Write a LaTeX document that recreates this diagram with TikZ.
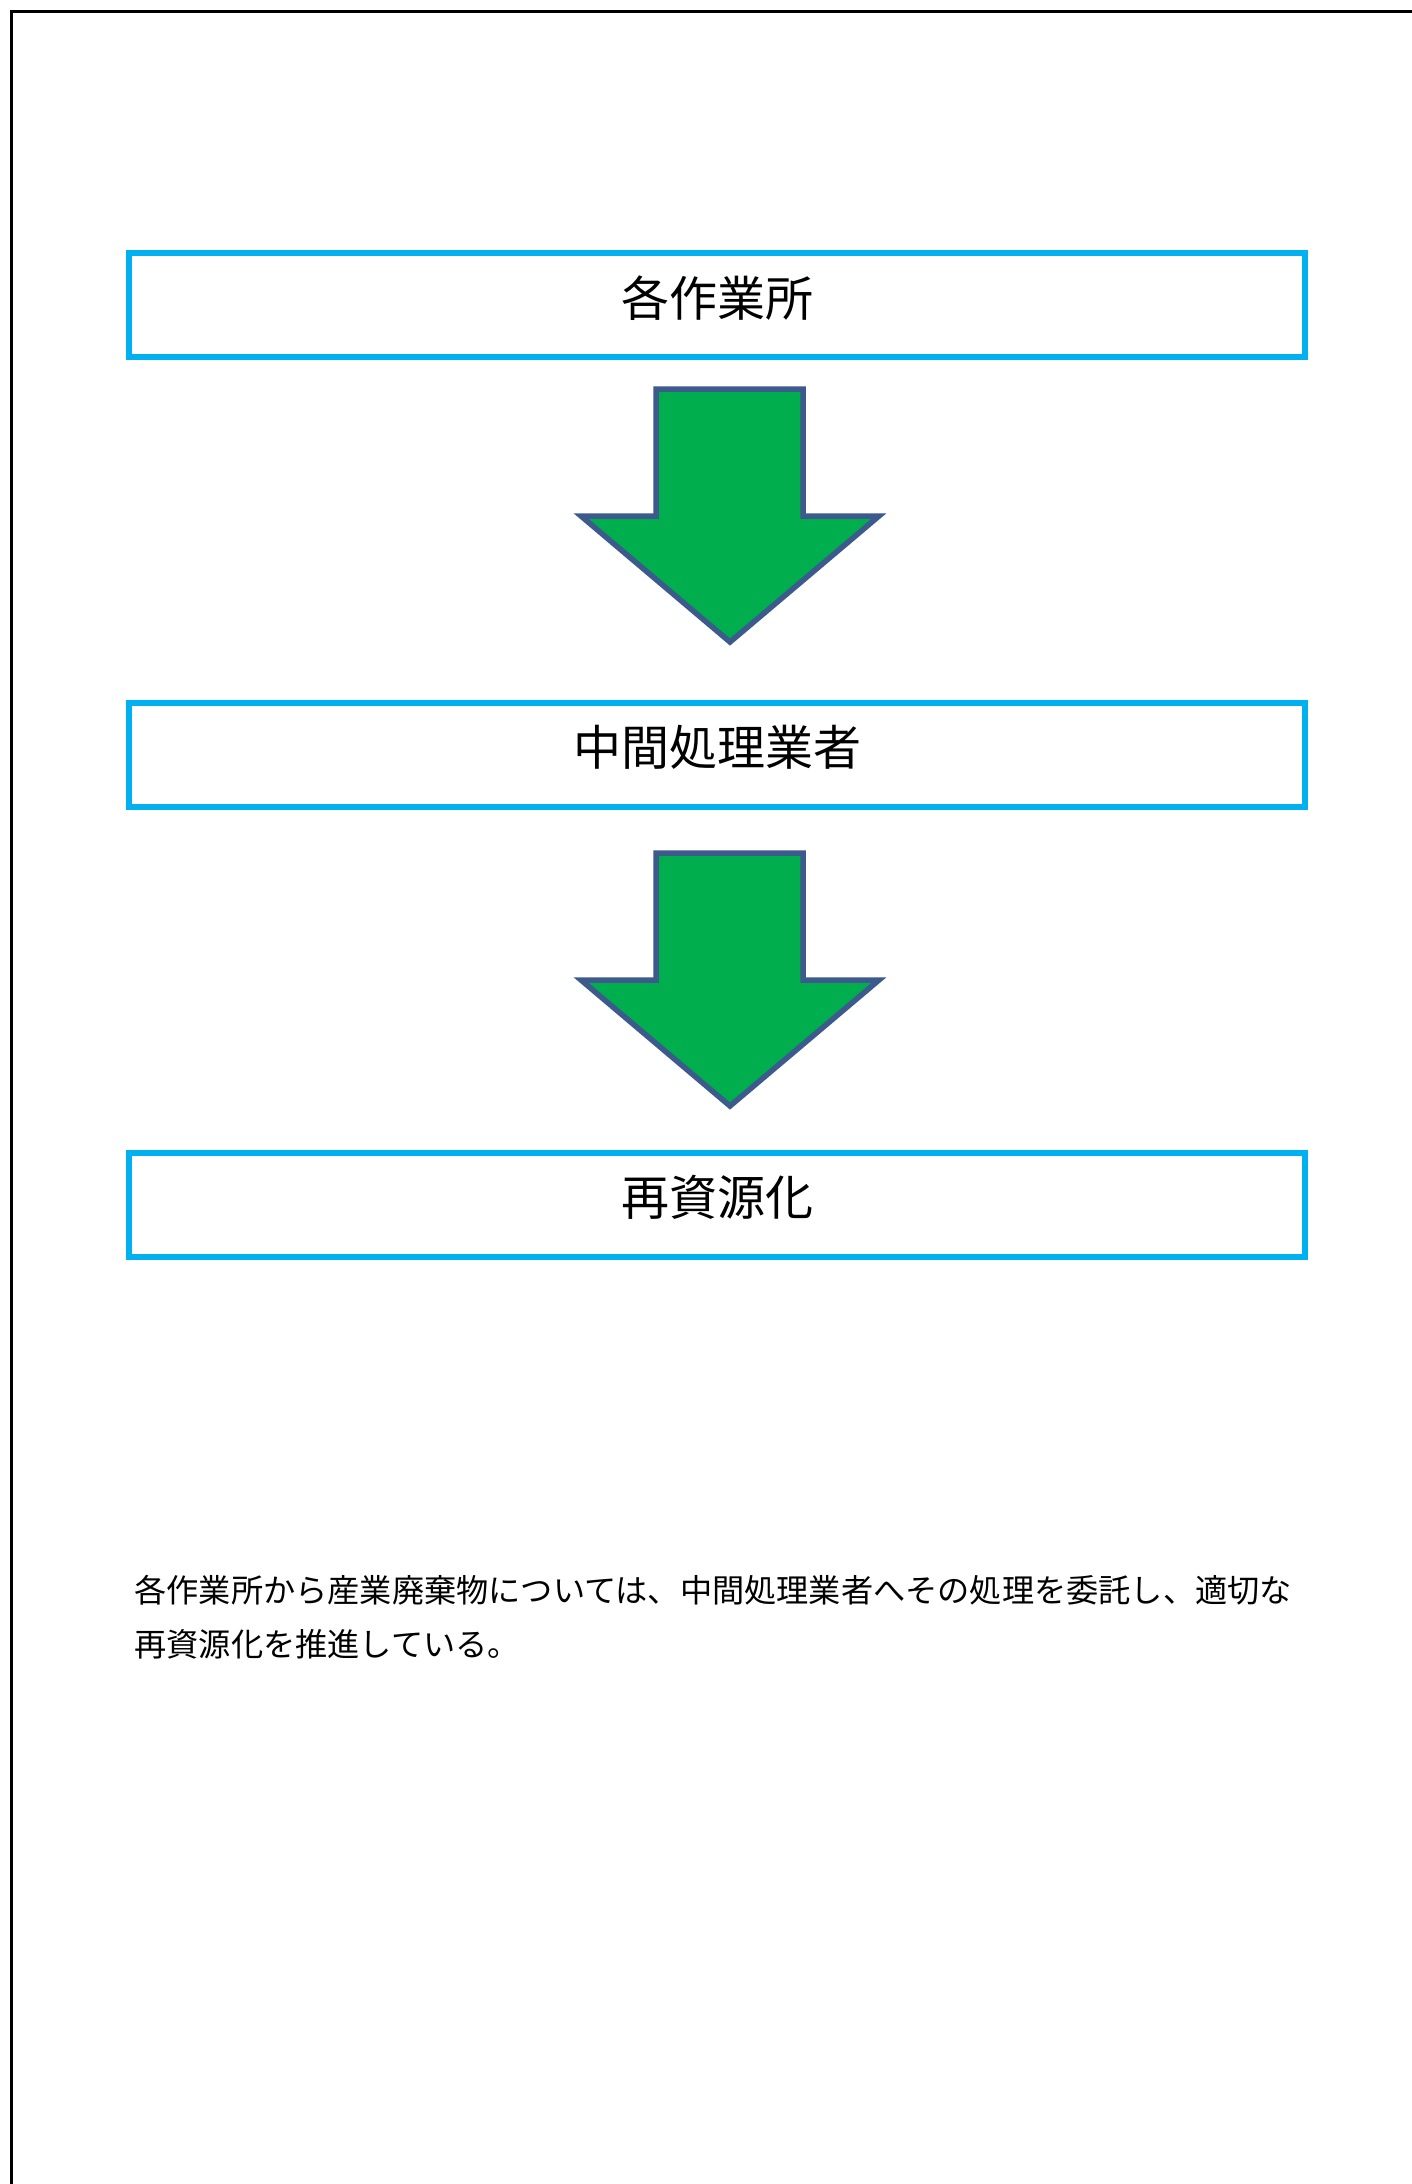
\documentclass[tikz,border=0pt]{standalone}
\usepackage{fontspec}
\newfontfamily\jpfont{Noto Sans CJK JP}
\definecolor{boxblue}{HTML}{00B0F0}
\definecolor{arrowgreen}{HTML}{00AE4E}
\definecolor{arrowedge}{HTML}{3C5A8C}
\begin{document}
\begin{tikzpicture}[x=0.5pt,y=-0.5pt,
  stagebox/.style={draw=boxblue,line width=3pt,rectangle,minimum width=588pt,minimum height=52pt,
    inner sep=0pt,font=\jpfont\fontsize{24}{28}\selectfont,text height=16pt,text depth=5pt},
  bigarrow/.style={draw=arrowedge,fill=arrowgreen,line width=2.75pt,line join=miter},
  bodytext/.style={font=\jpfont\fontsize{16.1}{27}\selectfont,anchor=base west,inner sep=0pt}]
\useasboundingbox (0,0) rectangle (1412,2184);
\fill[white] (0,0) rectangle (1412,2184);
% page frame (left and top edges)
\draw[line width=1.5pt,black] (11.5,2190) -- (11.5,11.5) -- (1420,11.5);
% stages
\node[stagebox] (s1) at (717,305) {各作業所};
\node[stagebox] (s2) at (717,754.5) {中間処理業者};
\node[stagebox] (s3) at (717,1204.5) {再資源化};
% arrows
\draw[bigarrow] (656,389) -- (803,389) -- (803,516) -- (879,516) -- (730,642) -- (581,516) -- (656,516) -- cycle;
\draw[bigarrow] (656,853) -- (803,853) -- (803,980) -- (879,980) -- (730,1106) -- (581,980) -- (656,980) -- cycle;
% description
\node[bodytext] (t1) at (134,1602) {各作業所から産業廃棄物については、中間処理業者へその処理を委託し、適切な};
\node[bodytext] (t2) at (134,1656) {再資源化を推進している。};
\end{tikzpicture}
\end{document}
